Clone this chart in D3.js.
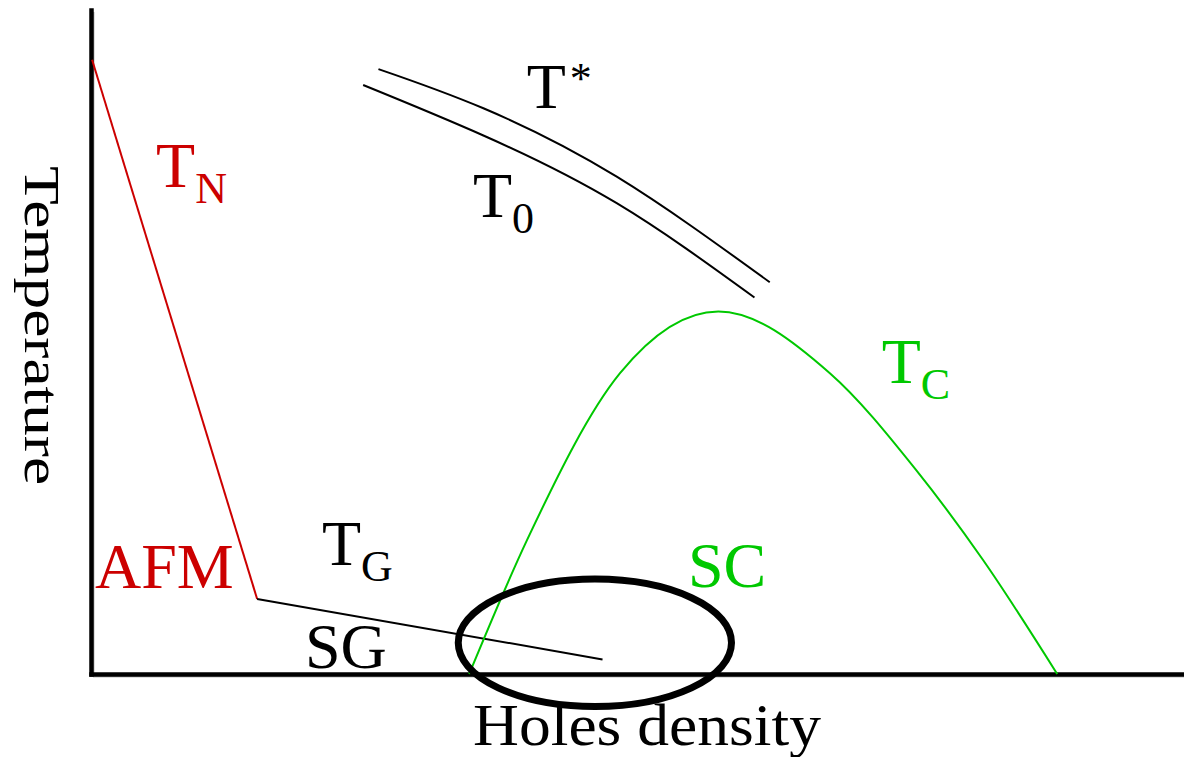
<!DOCTYPE html>
<html>
<head>
<meta charset="utf-8">
<script src="https://cdn.jsdelivr.net/npm/d3@7"></script>
<style>
  body { margin: 0; background: #fff; }
  svg { display: block; font-family: "Liberation Serif", "Times New Roman", serif; }
</style>
</head>
<body>
<svg></svg>
<script>
// schematic units: hole density 0..100 (x), temperature 0..100 (y)
let tnLine = [[0.1, 92.5], [15.2, 11.3]]           // Neel line T_N
let sgLine = [[15.2, 11.3], [46.8, 2.2]]           // spin glass T_G
let tStar = [[26.3, 91.1], [35.9, 85.2], [48.1, 74.9], [62.1, 59.0]]
let tZero = [[24.9, 88.7], [35.9, 81.1], [48.1, 70.9], [60.7, 56.7]]
let tcDome = [[34.6, 0], [39.9, 20.2], [48.4, 45.3], [57.4, 54.6], [67.6, 45.3], [75.5, 30.7], [81.6, 17.2], [88.4, 0]]
let ellipseCenter = [46.1, 4.7]
let ellipseRadii = [12.5, 9.6]

// labels: main text, subscript, superscript, anchor in chart units
let labelText = ['T', 'T', 'T', 'T', 'T', 'AFM', 'SG', 'SC']
let labelSub = ['N', '', '0', 'G', 'C', '', '', '']
let labelSup = ['', '*', '', '', '', '', '', '']
let labelX = [5.95, 39.86, 34.95, 21.13, 72.34, 0.37, 19.58, 54.62]
let labelY = [73.34, 85.2, 68.87, 16.42, 43.78, 12.95, 0.9, 13.15]
let labelKind = ['afm', 'pg', 'pg', 'sg', 'sc', 'afm', 'sg', 'sc']

let xTitle = 'Holes density'
let yTitle = 'Temperature'

let width = 1184
let height = 757
let colors = { afm: '#cc0000', sc: '#00c800', sg: '#000', pg: '#000' }

let svg = d3.select('svg').attr('width', width).attr('height', height)

let xScale = d3.scaleLinear().domain([0, 100]).range([91, 1184])
let yScale = d3.scaleLinear().domain([0, 100]).range([674, 10])

let drawAxes = () => {
  let xAxis = d3.axisBottom(xScale).tickValues([]).tickSizeOuter(0)
  let yAxis = d3.axisLeft(yScale).tickValues([]).tickSizeOuter(0)

  // faint drop shadow like the original drawing
  svg.append('g').attr('transform', 'translate(1.5,' + (yScale(0) + 1.5) + ')').call(xAxis)
    .select('.domain').attr('stroke', '#bbb').attr('stroke-width', 3)
  svg.append('g').attr('transform', 'translate(' + (xScale(0) + 1.5) + ',1.5)').call(yAxis)
    .select('.domain').attr('stroke', '#bbb').attr('stroke-width', 3)

  svg.append('g').attr('id', 'x-axis')
    .attr('transform', 'translate(0,' + yScale(0) + ')')
    .call(xAxis)
    .select('.domain').attr('stroke', '#000').attr('stroke-width', 4.5).attr('stroke-linecap', 'square')
  svg.append('g').attr('id', 'y-axis')
    .attr('transform', 'translate(' + xScale(0) + ',0)')
    .call(yAxis)
    .select('.domain').attr('stroke', '#000').attr('stroke-width', 4.5).attr('stroke-linecap', 'square')

  svg.append('text')
    .attr('x', 473).attr('y', 745)
    .attr('font-size', 60)
    .attr('textLength', 348).attr('lengthAdjust', 'spacingAndGlyphs')
    .text(xTitle)

  svg.append('text')
    .attr('transform', 'translate(25,166) rotate(90)')
    .attr('font-size', 50)
    .attr('textLength', 319).attr('lengthAdjust', 'spacingAndGlyphs')
    .text(yTitle)
}

let drawLines = () => {
  let straight = d3.line().x(d => xScale(d[0])).y(d => yScale(d[1]))
  let smooth = d3.line().x(d => xScale(d[0])).y(d => yScale(d[1])).curve(d3.curveNatural)
  let dome = d3.line().x(d => xScale(d[0])).y(d => yScale(d[1])).curve(d3.curveMonotoneX)

  svg.append('path').attr('d', straight(tnLine))
    .attr('fill', 'none').attr('stroke', colors.afm).attr('stroke-width', 2)
  svg.append('path').attr('d', straight(sgLine))
    .attr('fill', 'none').attr('stroke', '#000').attr('stroke-width', 2)

  svg.selectAll('.pg-line')
    .data([tStar, tZero])
    .enter()
    .append('path')
    .attr('class', 'pg-line')
    .attr('d', d => smooth(d))
    .attr('fill', 'none').attr('stroke', '#000').attr('stroke-width', 2)

  svg.append('path').attr('d', dome(tcDome))
    .attr('fill', 'none').attr('stroke', colors.sc).attr('stroke-width', 2)

  svg.append('ellipse')
    .attr('cx', xScale(ellipseCenter[0]))
    .attr('cy', yScale(ellipseCenter[1]))
    .attr('rx', xScale(ellipseRadii[0]) - xScale(0))
    .attr('ry', yScale(0) - yScale(ellipseRadii[1]))
    .attr('fill', 'none').attr('stroke', '#000').attr('stroke-width', 7)
}

let drawLabels = () => {
  let labels = labelText.map((t, i) => ({
    text: t, sub: labelSub[i], sup: labelSup[i], x: labelX[i], y: labelY[i], kind: labelKind[i]
  }))

  let g = svg.selectAll('.label')
    .data(labels)
    .enter()
    .append('text')
    .attr('class', 'label')
    .attr('x', d => xScale(d.x))
    .attr('y', d => yScale(d.y))
    .attr('font-size', 64)
    .attr('fill', d => colors[d.kind])

  g.append('tspan').text(d => d.text)
  g.filter(d => d.sub != '')
    .append('tspan').attr('font-size', 44).attr('dy', 16).text(d => d.sub)
  g.filter(d => d.sup != '')
    .append('tspan').attr('font-size', 44).attr('dx', 4).attr('dy', -15).text(d => d.sup)
}

drawAxes()
drawLines()
drawLabels()
</script>
</body>
</html>
